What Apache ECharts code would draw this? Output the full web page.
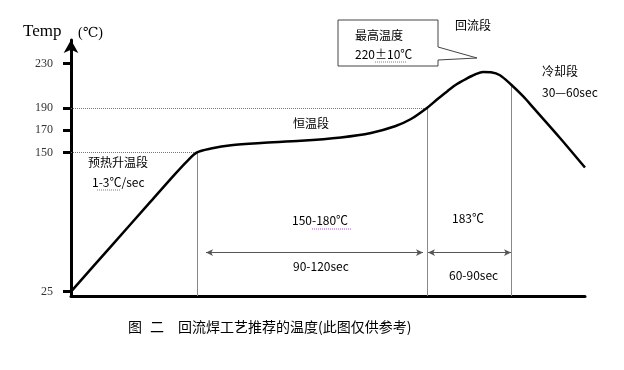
<!DOCTYPE html>
<html>
<head>
<meta charset="utf-8">
<script src="https://cdn.jsdelivr.net/npm/echarts@6/dist/echarts.min.js"></script>
<style>
html,body{margin:0;padding:0;background:#fff;}
#c{width:624px;height:370px;}
</style>
</head>
<body>
<div id="c"></div>
<script>
// ---- data ----
const timeSec = [0, 20, 40, 52, 58, 63, 70, 80, 95, 115, 135, 150, 162, 170, 178, 183, 188.5, 193, 198, 202, 206, 210, 214.5, 220, 226, 231, 244.5, 257];
const tempC   = [25, 65.6, 106.2, 130.5, 142, 150, 153.5, 156.5, 158.5, 160.4, 163.5, 167.5, 173.5, 180, 190, 197.5, 205.5, 211.5, 216.5, 220, 222.3, 222, 219.3, 211, 200.5, 190.5, 163, 136.4];
const yTicks = [25, 150, 170, 190, 230];
const phaseTimes = [63, 178, 220];      // end of preheat, end of soak, end of reflow
const phaseTemps = [150, 190, 211];     // curve temperature at those times
const guideTemps = [150, 190];          // dotted reference lines
const spanLevel = 60;                   // height of dimension arrows
const spans = [[67.5, 176], [178.5, 220]];

const chart = echarts.init(document.getElementById('c'), null, {renderer: 'canvas'});

const curve = timeSec.map((t, i) => [t, tempC[i]]);

const vLines = phaseTimes.map((t, i) => [{coord: [t, 21]}, {coord: [t, phaseTemps[i]]}]);
const hLines = guideTemps.map((v, i) => [{coord: [0, v], lineStyle: {type: 'dotted', color: '#777'}}, {coord: [phaseTimes[i], v]}]);
const arrows = spans.map(s => [{coord: [s[0], spanLevel], symbol: 'arrow'}, {coord: [s[1], spanLevel], symbol: 'arrow'}]);

const CJK = '"Noto Sans CJK SC", sans-serif';
function txt(x, y, s, size, font) {
  return {type: 'text', left: x, top: y - size / 2 - 1, style: {text: s, fill: '#000', font: size + 'px ' + (font || CJK)}, silent: true};
}
function uline(x1, x2, y) {
  return {type: 'line', shape: {x1: x1, y1: y, x2: x2, y2: y}, style: {stroke: '#a060c0', lineWidth: 1, lineDash: [1, 1]}, silent: true};
}

chart.setOption({
  animation: false,
  backgroundColor: '#fff',
  grid: {left: 71, right: 39, top: 40, bottom: 74, containLabel: false},
  xAxis: {
    type: 'value', min: 0, max: 257,
    axisLine: {show: true, lineStyle: {color: '#000', width: 3}},
    axisTick: {show: false}, axisLabel: {show: false}, splitLine: {show: false}
  },
  yAxis: {
    type: 'value', min: 21, max: 251,
    axisLine: {show: true, symbol: ['none', 'arrow'], symbolSize: [11, 13], lineStyle: {color: '#000', width: 3}},
    axisTick: {show: true, customValues: yTicks, length: 8, lineStyle: {color: '#000', width: 3}},
    axisLabel: {show: true, customValues: yTicks, margin: 18, color: '#333', fontSize: 12, fontFamily: '"Liberation Serif", serif'},
    splitLine: {show: false}
  },
  series: [{
    type: 'line',
    data: curve,
    smooth: 0.3,
    symbol: 'none',
    lineStyle: {color: '#000', width: 2.5},
    z: 5,
    markLine: {
      silent: true,
      symbol: 'none',
      label: {show: false},
      animation: false,
      lineStyle: {color: '#888', width: 1, type: 'solid'},
      data: vLines.concat(hLines)
    }
  }, {
    type: 'line',
    data: [],
    markLine: {
      silent: true,
      symbol: ['arrow', 'arrow'],
      symbolSize: [5, 7],
      label: {show: false},
      animation: false,
      lineStyle: {color: '#555', width: 1, type: 'solid'},
      data: arrows
    }
  }],
  graphic: [
    txt(23, 33, 'Temp', 17, '"Liberation Serif", serif'),
    txt(78, 34, '(℃)', 14, '"Liberation Serif", "DejaVu Serif", serif'),
    {type: 'polygon', shape: {points: [[338, 20], [438, 20], [438, 47], [477, 58], [438, 60], [438, 66], [338, 66]]},
      style: {fill: '#fff', stroke: '#444', lineWidth: 1}, z: 10, silent: true},
    Object.assign(txt(355, 36, '最高温度', 12), {z: 11}),
    Object.assign(txt(355, 55, '220±10℃', 12), {z: 11}),
    Object.assign(uline(375, 407, 62), {z: 11}),
    txt(455, 26, '回流段', 12),
    txt(542, 72, '冷却段', 12),
    txt(542, 93, '30—60sec', 12),
    txt(88, 163, '预热升温段', 12),
    txt(92, 183, '1-3℃/sec', 12),
    uline(97, 121, 190),
    txt(293, 124, '恒温段', 12),
    txt(292, 221, '150-180℃', 12),
    uline(312, 352, 229),
    txt(293, 267, '90-120sec', 12),
    txt(452, 219, '183℃', 12),
    txt(449, 276, '60-90sec', 12),
    txt(128, 328, '图', 14),
    txt(150, 328, '二', 14),
    txt(178, 328, '回流焊工艺推荐的温度(此图仅供参考)', 14)
  ]
});
</script>
</body>
</html>
